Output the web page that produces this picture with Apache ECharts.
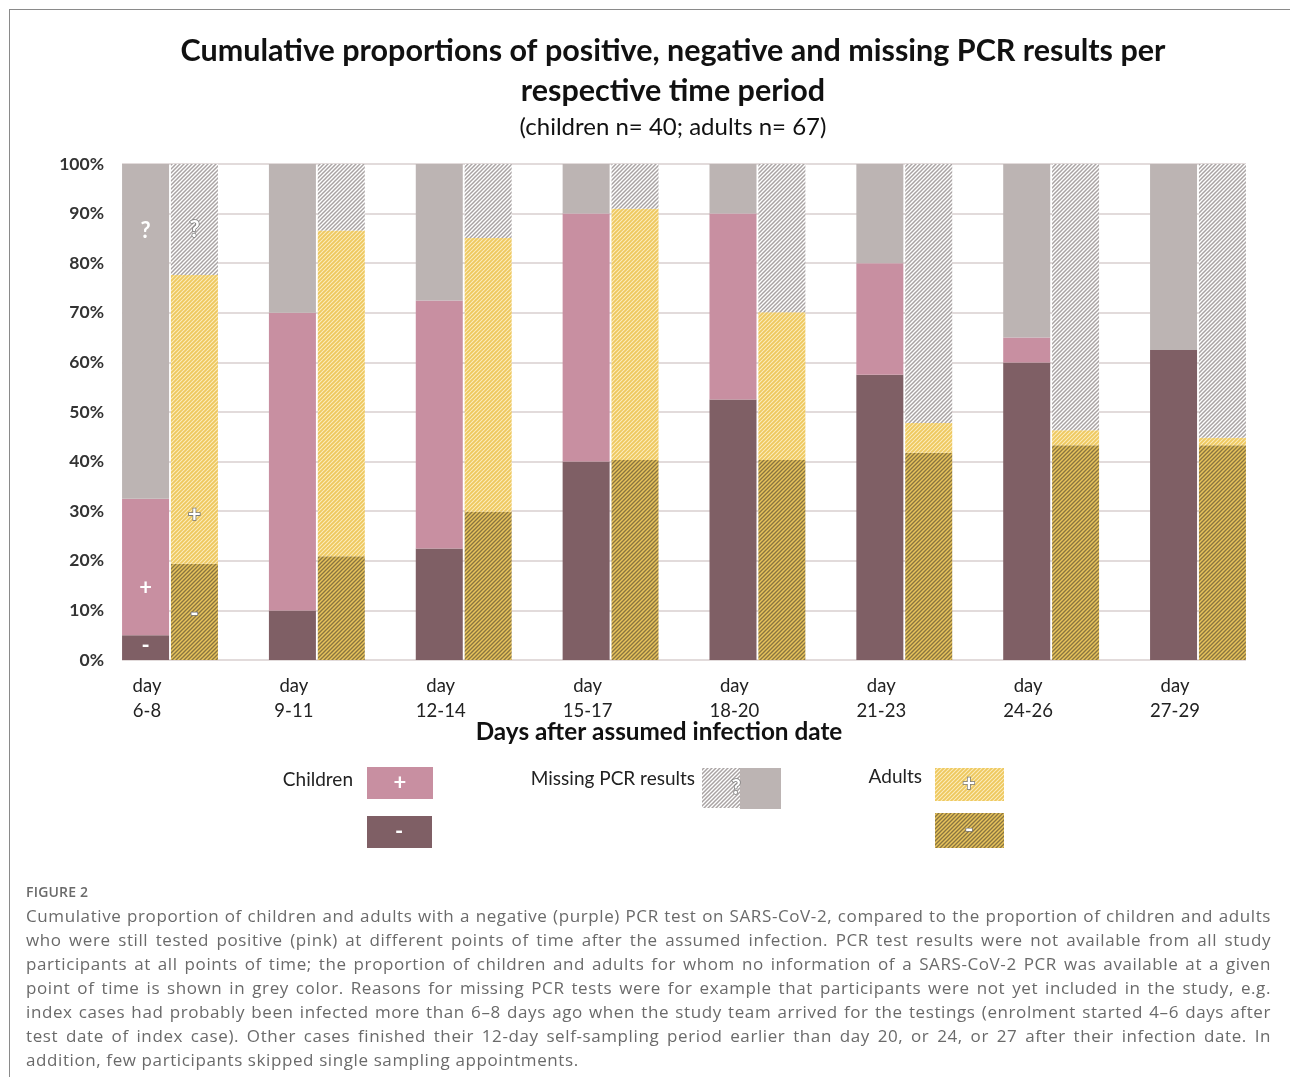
<!DOCTYPE html>
<html>
<head>
<meta charset="utf-8">
<script src="https://cdn.jsdelivr.net/npm/echarts@6/dist/echarts.min.js"></script>
<style>
  html, body { margin: 0; padding: 0; background: #fff; }
  #wrap { position: relative; width: 1290px; height: 1077px; overflow: hidden; }
  #chart { position: absolute; left: 0; top: 0; width: 1290px; height: 1077px; }
  #frame { position: absolute; left: 9px; top: 9px; right: -5px; bottom: -5px; border-left: 1.5px solid #8a8a8a; border-top: 1.5px solid #8a8a8a; pointer-events: none; }
  #caption { position: absolute; left: 26px; top: 880px; width: 1245px; font-family: "Open Sans", sans-serif; color: #6a6a6a; }
  #caption .fig { font-size: 14px; font-weight: 600; color: #6a6a6a; line-height: 24px; letter-spacing: 0.2px; }
  #caption .ln { font-size: 17px; line-height: 24px; letter-spacing: 0.6px; white-space: nowrap; text-align: justify; text-align-last: justify; }
  #caption .ln.last { text-align: left; text-align-last: left; }
</style>
</head>
<body>
<div id="wrap">
  <div id="chart"></div>
  <div id="frame"></div>
  <div id="caption">
    <div class="fig">FIGURE 2</div>
    <div class="ln">Cumulative proportion of children and adults with a negative (purple) PCR test on SARS-CoV-2, compared to the proportion of children and adults</div>
    <div class="ln">who were still tested positive (pink) at different points of time after the assumed infection. PCR test results were not available from all study</div>
    <div class="ln">participants at all points of time; the proportion of children and adults for whom no information of a SARS-CoV-2 PCR was available at a given</div>
    <div class="ln">point of time is shown in grey color. Reasons for missing PCR tests were for example that participants were not yet included in the study, e.g.</div>
    <div class="ln">index cases had probably been infected more than 6–8 days ago when the study team arrived for the testings (enrolment started 4–6 days after</div>
    <div class="ln">test date of index case). Other cases finished their 12-day self-sampling period earlier than day 20, or 24, or 27 after their infection date. In</div>
    <div class="ln last">addition, few participants skipped single sampling appointments.</div>
  </div>
</div>
<script>
// ---- data (percent of each group) ----
const categories = ['day\n6-8', 'day\n9-11', 'day\n12-14', 'day\n15-17', 'day\n18-20', 'day\n21-23', 'day\n24-26', 'day\n27-29'];
const childNeg  = [5, 10, 22.5, 40, 52.5, 57.5, 60, 62.5];
const childPos  = [27.5, 60, 50, 50, 37.5, 22.5, 5, 0];
const childMiss = [67.5, 30, 27.5, 10, 10, 20, 35, 37.5];
const adultNeg  = [19.4, 20.9, 29.9, 40.3, 40.3, 41.8, 43.3, 43.3];
const adultPos  = [58.2, 65.7, 55.2, 50.7, 29.8, 6.0, 3.0, 1.5];
const adultMiss = [22.4, 13.4, 14.9, 9.0, 29.9, 52.2, 53.7, 55.2];
const yTicks = [0, 10, 20, 30, 40, 50, 60, 70, 80, 90, 100];

const FONT = 'Lato, "Open Sans", sans-serif';

function hatch(bg, fg, size, lw) {
  const c = document.createElement('canvas');
  c.width = size; c.height = size;
  const g = c.getContext('2d');
  g.fillStyle = bg; g.fillRect(0, 0, size, size);
  g.strokeStyle = fg; g.lineWidth = lw; g.lineCap = 'square';
  for (const k of [-size, 0, size]) {
    g.beginPath(); g.moveTo(k, size); g.lineTo(k + size, 0); g.stroke();
  }
  return { image: c, repeat: 'repeat' };
}
const patMiss = hatch('#ffffff', '#a9a3a3', 4, 1.5);
const patPos  = hatch('#fbecbe', '#eec85e', 4, 1.8);
const patNeg  = hatch('#e8c45c', '#8a7540', 4, 1.4);

const C_NEG = '#7f5f65', C_POS = '#c88fa1', C_MISS = '#bcb4b3';

function firstLabel(arr, text, pos, opts) {
  return arr.map((v, i) => i === 0 ? {
    value: v,
    label: Object.assign({ show: true, formatter: text, position: pos, align: 'center', verticalAlign: 'middle',
      fontFamily: FONT, fontWeight: 'bold', fontSize: 22 }, opts)
  } : v);
}
const whiteLbl = { color: '#ffffff' };
const outlineLbl = { color: '#ffffff', textBorderColor: '#7a7a7a', textBorderWidth: 1.6 };

const chart = echarts.init(document.getElementById('chart'));
const barW = 47;
const common = { type: 'bar', xAxisIndex: 0, yAxisIndex: 0, barWidth: barW, barGap: '4%', emphasis: { disabled: true } };

chart.setOption({
  animation: false,
  backgroundColor: '#ffffff',
  title: {
    text: 'Cumulative proportions of positive, negative and missing PCR results per\nrespective time period',
    subtext: '(children n= 40; adults n= 67)',
    left: 668, top: 26, textAlign: 'center', itemGap: 1,
    textStyle: { fontFamily: FONT, fontWeight: 'bold', fontSize: 30.5, lineHeight: 40, color: '#111' },
    subtextStyle: { fontFamily: FONT, fontSize: 24, lineHeight: 30, color: '#111' }
  },
  grid: [
    { left: 170, top: 164, width: 1028, height: 496 },
    { left: 122, top: 164, width: 1124, height: 496 }
  ],
  xAxis: [
    { type: 'category', gridIndex: 0, data: categories, boundaryGap: false,
      axisLine: { show: false }, axisTick: { show: false },
      axisLabel: { fontFamily: FONT, fontSize: 18.5, lineHeight: 25, color: '#222', margin: 14, padding: [0, 46, 0, 0], interval: 0 } },
    { type: 'value', gridIndex: 1, min: 0, max: 1, show: false }
  ],
  yAxis: [
    { type: 'value', gridIndex: 0, min: 0, max: 100, interval: 10, show: false },
    { type: 'value', gridIndex: 1, min: 0, max: 100, interval: 10,
      axisLine: { show: false }, axisTick: { show: false },
      axisLabel: { formatter: v => yTicks.includes(v) ? v + '%' : '', fontFamily: FONT, fontWeight: 'bold', fontSize: 17.5, color: '#333', margin: 18 },
      splitLine: { lineStyle: { color: '#d9cfcf', width: 1.5 } } }
  ],
  series: [
    Object.assign({ name: 'Children negative', stack: 'c', data: firstLabel(childNeg, '-', ['50%', '45%'], whiteLbl), itemStyle: { color: C_NEG } }, common),
    Object.assign({ name: 'Children positive', stack: 'c', data: firstLabel(childPos, '+', ['50%', '65%'], whiteLbl), itemStyle: { color: C_POS } }, common),
    Object.assign({ name: 'Children missing', stack: 'c', data: firstLabel(childMiss, '?', ['50%', '20%'], whiteLbl), itemStyle: { color: C_MISS } }, common),
    Object.assign({ name: 'Adults negative', stack: 'a', data: firstLabel(adultNeg, '-', ['50%', '52%'], outlineLbl), itemStyle: { color: patNeg } }, common),
    Object.assign({ name: 'Adults positive', stack: 'a', data: firstLabel(adultPos, '+', ['50%', '83%'], outlineLbl), itemStyle: { color: patPos } }, common),
    Object.assign({ name: 'Adults missing', stack: 'a', data: firstLabel(adultMiss, '?', ['50%', '59%'], outlineLbl), itemStyle: { color: patMiss } }, common)
  ],
  graphic: [
    { type: 'text', x: 659, y: 732, style: { text: 'Days after assumed infection date', fontFamily: FONT, fontWeight: 'bold', fontSize: 24.3, fill: '#111', align: 'center', verticalAlign: 'middle' } },
    // legend: children
    { type: 'text', x: 353, y: 780, style: { text: 'Children', fontFamily: FONT, fontSize: 19, fill: '#222', align: 'right', verticalAlign: 'middle' } },
    { type: 'rect', shape: { x: 367, y: 767, width: 66, height: 32 }, style: { fill: C_POS } },
    { type: 'text', x: 400, y: 783, style: { text: '+', fontFamily: FONT, fontWeight: 'bold', fontSize: 22, fill: '#fff', align: 'center', verticalAlign: 'middle' } },
    { type: 'rect', shape: { x: 367, y: 816, width: 65, height: 32 }, style: { fill: C_NEG } },
    { type: 'text', x: 399, y: 832, style: { text: '-', fontFamily: FONT, fontWeight: 'bold', fontSize: 22, fill: '#fff', align: 'center', verticalAlign: 'middle' } },
    // legend: missing
    { type: 'text', x: 695, y: 779, style: { text: 'Missing PCR results', fontFamily: FONT, fontSize: 19, fill: '#222', align: 'right', verticalAlign: 'middle' } },
    { type: 'rect', shape: { x: 702, y: 768, width: 38, height: 40 }, style: { fill: patMiss } },
    { type: 'rect', shape: { x: 740, y: 768, width: 41, height: 41 }, style: { fill: C_MISS } },
    { type: 'text', x: 736, y: 788, style: { text: '?', fontFamily: FONT, fontWeight: 'bold', fontSize: 20, fill: '#fff', stroke: '#7a7a7a', lineWidth: 1.5, align: 'center', verticalAlign: 'middle' } },
    // legend: adults
    { type: 'text', x: 922, y: 777, style: { text: 'Adults', fontFamily: FONT, fontSize: 19, fill: '#222', align: 'right', verticalAlign: 'middle' } },
    { type: 'rect', shape: { x: 935, y: 768, width: 69, height: 33 }, style: { fill: patPos } },
    { type: 'text', x: 969, y: 784, style: { text: '+', fontFamily: FONT, fontWeight: 'bold', fontSize: 22, fill: '#fff', stroke: '#7a7a7a', lineWidth: 1.5, align: 'center', verticalAlign: 'middle' } },
    { type: 'rect', shape: { x: 935, y: 813, width: 69, height: 35 }, style: { fill: patNeg } },
    { type: 'text', x: 969, y: 830, style: { text: '-', fontFamily: FONT, fontWeight: 'bold', fontSize: 22, fill: '#fff', stroke: '#7a7a7a', lineWidth: 1.5, align: 'center', verticalAlign: 'middle' } }
  ]
});
</script>
</body>
</html>
